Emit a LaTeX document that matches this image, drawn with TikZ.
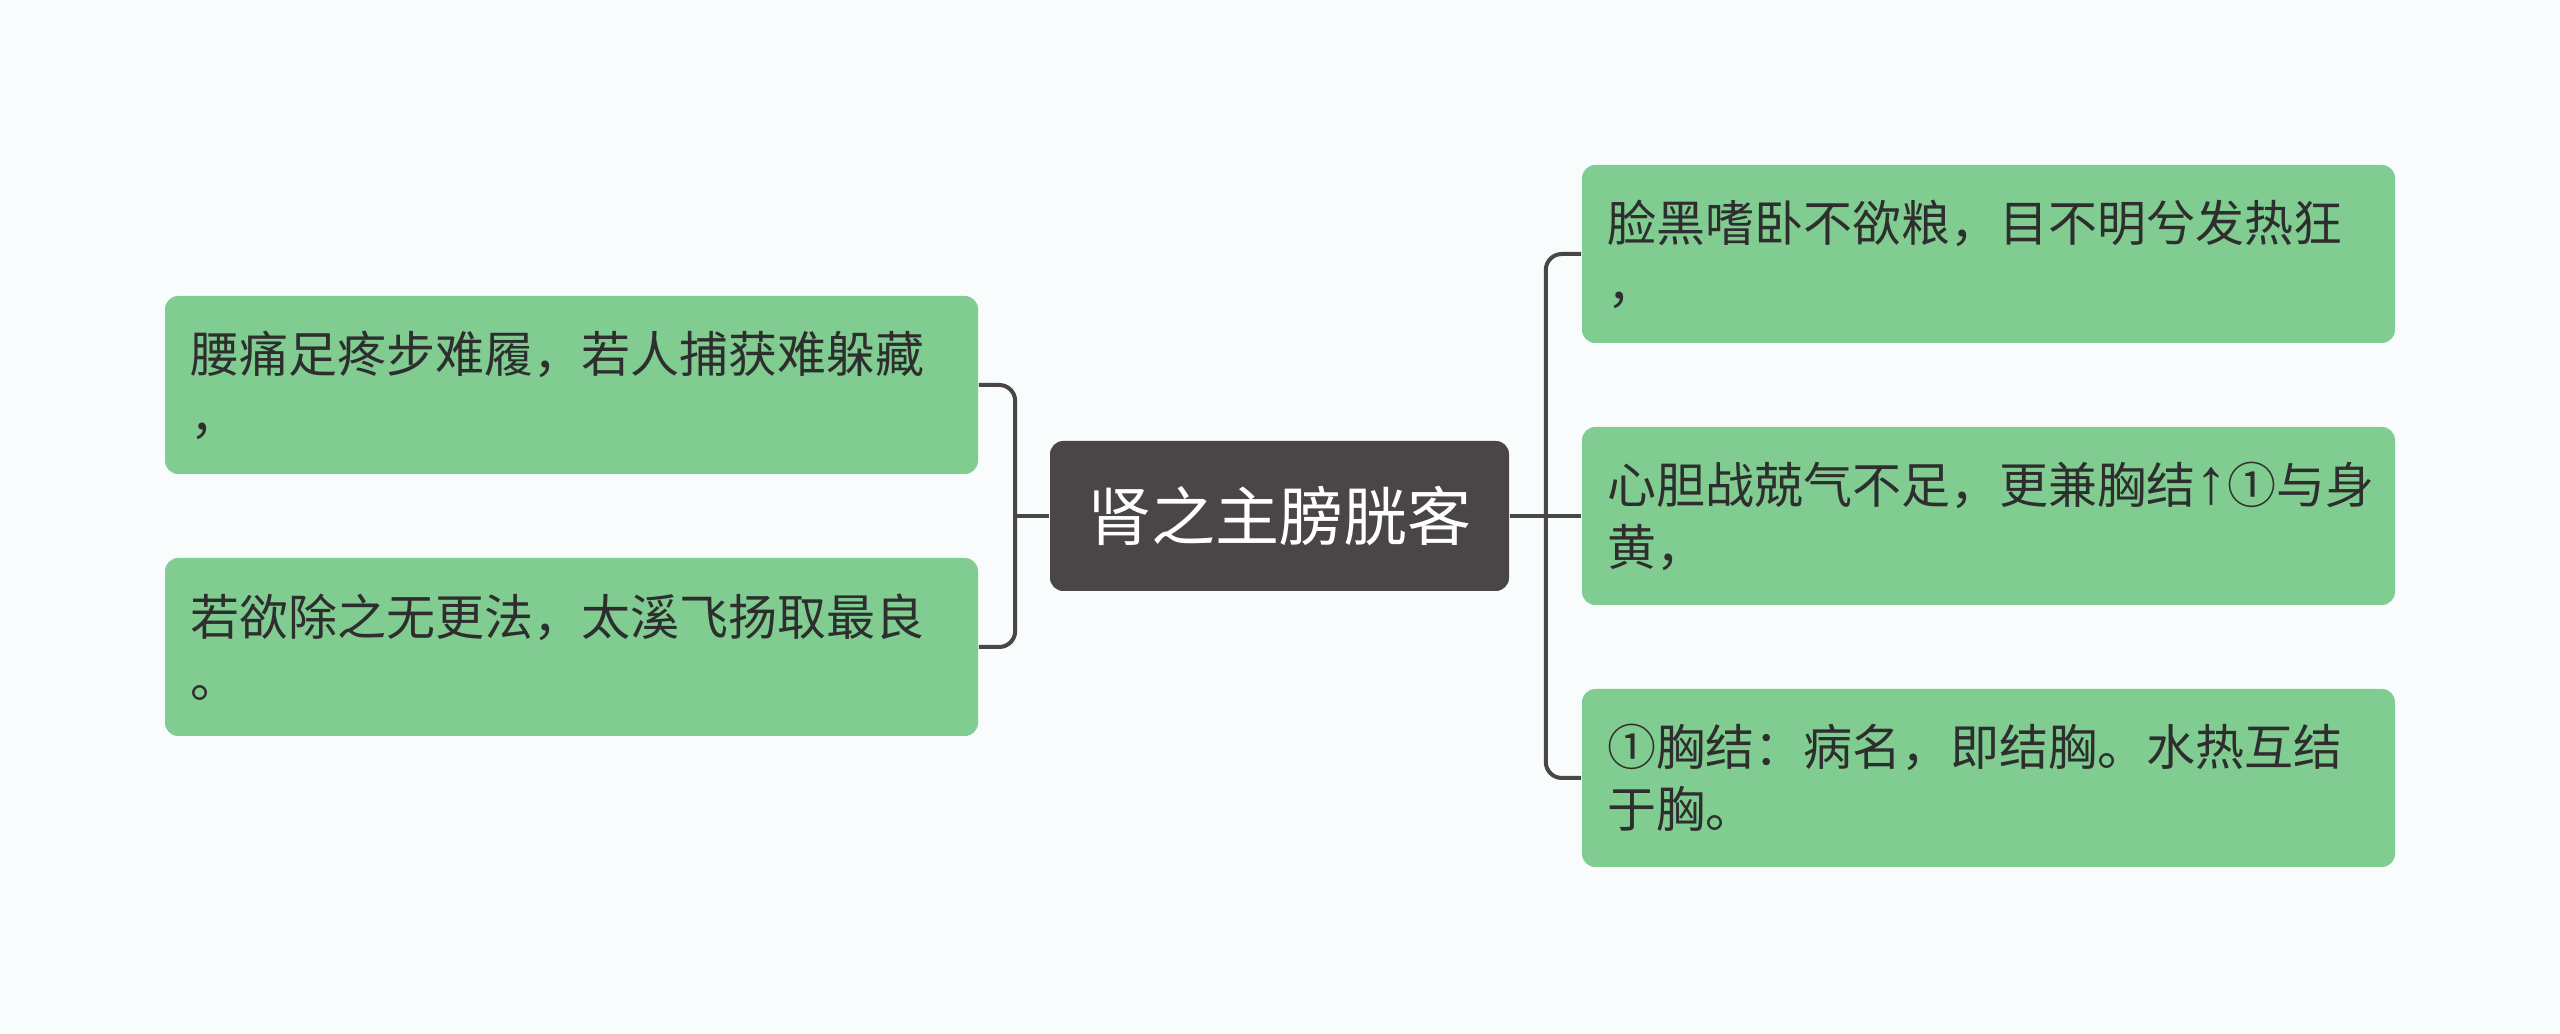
\documentclass[tikz,border=0pt]{standalone}
\usepackage{fontspec}
\setmainfont{Noto Sans CJK SC}
\newfontfamily\arrowfont{Liberation Sans}
\definecolor{bgcol}{HTML}{F8FCFD}
\definecolor{leafcol}{HTML}{80CC91}
\definecolor{rootcol}{HTML}{4A4546}
\definecolor{txtcol}{HTML}{2E2E2E}
\begin{document}
\begin{tikzpicture}[x=0.25pt,y=-0.25pt,
    leaf/.style={fill=leafcol, rounded corners=3.3pt, text=txtcol, align=left,
        minimum height=44.5pt, text width=190.75pt, inner xsep=6.25pt,
        font=\fontsize{12.25}{15.5}\selectfont},
    link/.style={draw=rootcol, line width=1pt, rounded corners=4pt}]
    \fill[bgcol] (0,0) rectangle (2560,1034);
    \useasboundingbox (0,0) rectangle (2560,1034);
    \node[fill=rootcol, rounded corners=3.3pt, text=white, minimum width=114.75pt,
        minimum height=37.5pt, font=\fontsize{16}{19}\selectfont] (root) at (1279.5,516) {肾之主膀胱客};
    % left side
    \node[leaf] (yaotong) at (571.5,385) {腰痛足疼步难履，若人捕获难躲藏\\，};
    \node[leaf] (ruoyu) at (571.5,647) {若欲除之无更法，太溪飞扬取最良\\。};
    \draw[link] (root.west) -- ++(-34,0) coordinate (lj);
    \draw[link] (yaotong.east) -| (lj) |- (ruoyu.east);
    % right side
    \node[leaf] (lianhei) at (1988.5,254) {脸黑嗜卧不欲粮，目不明兮发热狂\\，};
    \node[leaf] (xindan) at (1988.5,516) {心胆战兢气不足，更兼胸结{\arrowfont\fontsize{16}{15.5}\selectfont ↑}①与身\\黄，};
    \node[leaf] (xiongjie) at (1988.5,778) {①胸结：病名，即结胸。水热互结\\于胸。};
    \draw[link] (root.east) -- ++(36,0) coordinate (rj);
    \draw[link] (lianhei.west) -| (rj) |- (xiongjie.west);
    \draw[link] (rj) -- (xindan.west);
\end{tikzpicture}
\end{document}
